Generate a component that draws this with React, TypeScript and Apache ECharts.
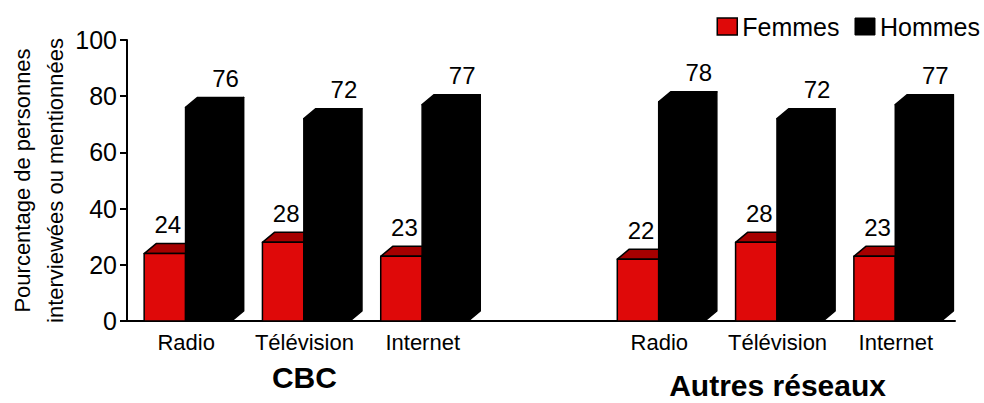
import React, { useEffect, useRef } from "react";
import * as echarts from "echarts";

const categories = ["Radio", "Télévision", "Internet", "", "Radio", "Télévision", "Internet"];
const groupLabels = ["", "CBC", "", "", "", "Autres réseaux", ""];
const femmes: (number | null)[] = [24, 28, 23, null, 22, 28, 23];
const hommes: (number | null)[] = [76, 72, 77, null, 78, 72, 77];
const yMin = 0;
const yMax = 100;
const yInterval = 20;

const SANS = "'Liberation Sans', Arial, Helvetica, sans-serif";

const RED = "#df0909";
const RED_TOP = "#a60000";

function toData(vals: (number | null)[]) {
  const out: number[][] = [];
  vals.forEach((v, i) => {
    if (v !== null) out.push([i, v]);
  });
  return out;
}

function makeRender(kind: "f" | "h") {
  return (params: any, api: any) => {
    const ci = api.value(0);
    const v = api.value(1);
    const base = api.coord([ci, 0]);
    const top = api.coord([ci, v]);
    const bw = api.size([1, 0])[0];
    const cx = base[0];
    let x0: number, x1: number;
    if (kind === "f") {
      x0 = cx - 0.355 * bw;
      x1 = cx - 0.005 * bw;
    } else {
      x0 = cx - 0.005 * bw;
      x1 = cx + 0.385 * bw;
    }
    const yb = base[1];
    const yt = top[1];
    const DX = 12;
    const DY = 10;
    const front = kind === "f" ? RED : "#000";
    const topC = kind === "f" ? RED_TOP : "#000";
    const sideC = kind === "f" ? RED_TOP : "#000";
    const stroke = { stroke: "#000", lineWidth: 1.5, lineJoin: "round" };
    const labelX = (x0 + x1) / 2 + (kind === "f" ? 3 : 17);
    return {
      type: "group",
      children: [
        {
          type: "polygon",
          shape: { points: [[x1, yb], [x1 + DX, yb - DY], [x1 + DX, yt - DY], [x1, yt]] },
          style: { fill: sideC, ...stroke },
        },
        {
          type: "polygon",
          shape: { points: [[x0, yt], [x0 + DX, yt - DY], [x1 + DX, yt - DY], [x1, yt]] },
          style: { fill: topC, ...stroke },
        },
        {
          type: "rect",
          shape: { x: x0, y: yt, width: x1 - x0, height: yb - yt },
          style: { fill: front, ...stroke },
        },
        {
          type: "text",
          style: {
            text: String(v),
            x: labelX,
            y: yt - 17,
            align: "center",
            verticalAlign: "bottom",
            fontSize: 24,
            fontFamily: SANS,
            fill: "#000",
          },
        },
      ],
    };
  };
}

export default function App() {
  const ref = useRef<HTMLDivElement>(null);
  useEffect(() => {
    document.body.style.margin = "0";
    if (!ref.current) return;
    const chart = echarts.init(ref.current, undefined, { renderer: "svg" });
    chart.setOption({
      animation: false,
      backgroundColor: "#fff",
      grid: { left: 127, right: 29, top: 40, bottom: 82, outerBoundsMode: "none", containLabel: false },
      legend: {
        right: 4,
        top: 14,
        padding: 0,
        icon: "rect",
        itemWidth: 20,
        itemHeight: 17,
        itemGap: 15,
        textStyle: { fontSize: 25, fontFamily: SANS, color: "#000" },
        data: [
          { name: "Femmes", itemStyle: { color: RED, borderColor: "#000", borderWidth: 1.5 } },
          { name: "Hommes", itemStyle: { color: "#000", borderColor: "#000", borderWidth: 1 } },
        ],
      },
      xAxis: [
        {
          type: "category",
          data: categories,
          axisLine: { show: true, lineStyle: { color: "#000", width: 2 } },
          axisTick: { show: false },
          axisLabel: { interval: 0, margin: 10, fontSize: 22, fontFamily: SANS, color: "#000" },
        },
        {
          type: "category",
          data: categories,
          position: "bottom",
          axisLine: { show: false },
          axisTick: { show: false },
          axisLabel: {
            interval: 0,
            margin: 41,
            formatter: (_v: string, i: number) => {
              const g = groupLabels[i];
              if (!g) return "";
              return i === 5 ? `{b|${g}}` : `{a|${g}}`;
            },
            rich: {
              a: { fontSize: 30, fontWeight: "bold", fontFamily: SANS, color: "#000" },
              b: { fontSize: 30, fontWeight: "bold", fontFamily: SANS, color: "#000", padding: [8, 0, 0, 0] },
            },
          },
        },
      ],
      yAxis: {
        type: "value",
        min: yMin,
        max: yMax,
        interval: yInterval,
        name: "Pourcentage de personnes\ninterviewées ou mentionnées",
        nameLocation: "middle",
        nameRotate: 90,
        nameGap: 55,
        nameMoveOverlap: false,
        nameTextStyle: { fontSize: 22, lineHeight: 33, fontFamily: SANS, color: "#000" },
        splitLine: { show: false },
        axisLine: { show: true, lineStyle: { color: "#000", width: 2 } },
        axisTick: { show: true, length: 7, lineStyle: { color: "#000", width: 2 } },
        axisLabel: { margin: 10, fontSize: 25, fontFamily: SANS, color: "#000" },
      },
      series: [
        {
          name: "Femmes",
          type: "custom",
          renderItem: makeRender("f"),
          encode: { x: 0, y: 1 },
          itemStyle: { color: RED },
          data: toData(femmes),
        },
        {
          name: "Hommes",
          type: "custom",
          renderItem: makeRender("h"),
          encode: { x: 0, y: 1 },
          itemStyle: { color: "#000" },
          data: toData(hommes),
        },
      ],
    });
    return () => chart.dispose();
  }, []);
  return <div ref={ref} style={{ width: 984, height: 403 }} />;
}
